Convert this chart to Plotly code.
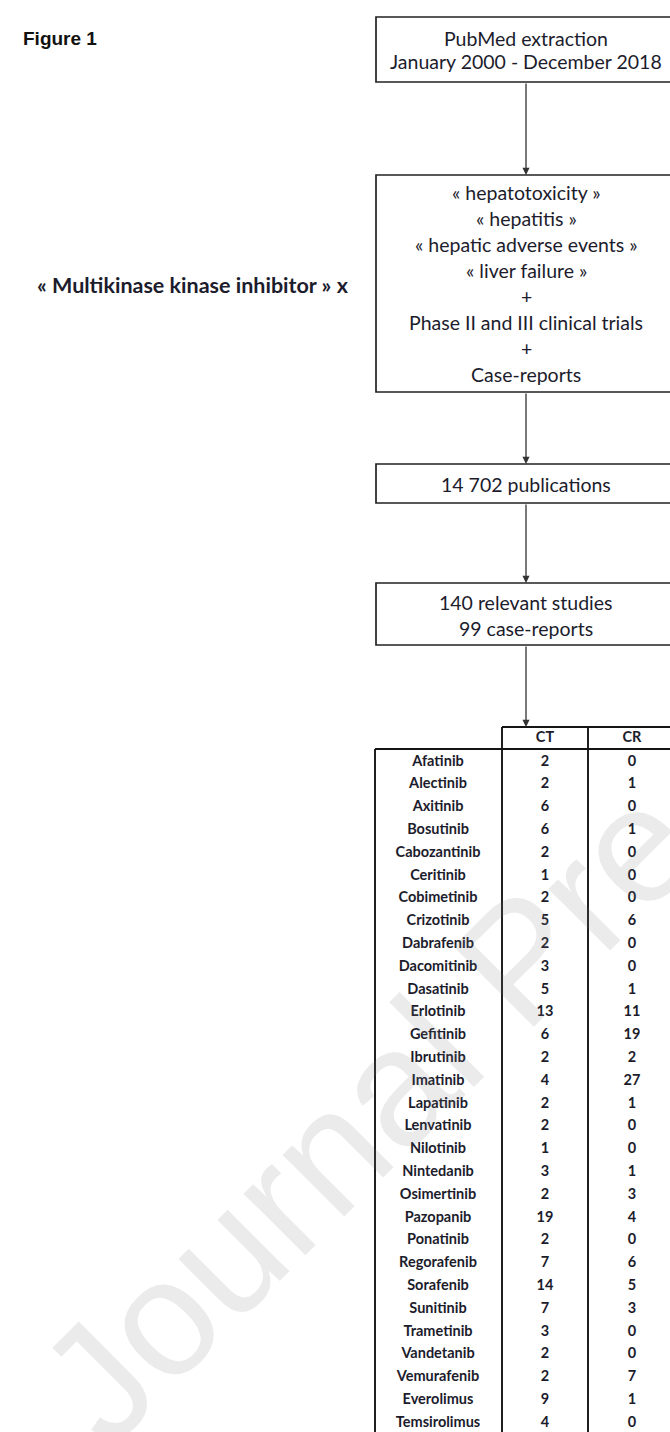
import plotly.graph_objects as go

# ---------------- data ----------------
drugs = ["Afatinib", "Alectinib", "Axitinib", "Bosutinib", "Cabozantinib", "Ceritinib",
         "Cobimetinib", "Crizotinib", "Dabrafenib", "Dacomitinib", "Dasatinib", "Erlotinib",
         "Gefitinib", "Ibrutinib", "Imatinib", "Lapatinib", "Lenvatinib", "Nilotinib",
         "Nintedanib", "Osimertinib", "Pazopanib", "Ponatinib", "Regorafenib", "Sorafenib",
         "Sunitinib", "Trametinib", "Vandetanib", "Vemurafenib", "Everolimus", "Temsirolimus"]
ct = [2, 2, 6, 6, 2, 1, 2, 5, 2, 3, 5, 13, 6, 2, 4, 2, 2, 1, 3, 2, 19, 2, 7, 14, 7, 3, 2, 2, 9, 4]
cr = [0, 1, 0, 1, 0, 0, 0, 6, 0, 0, 1, 11, 19, 2, 27, 1, 0, 0, 1, 3, 4, 0, 6, 5, 3, 0, 0, 7, 1, 0]
col_headers = ["CT", "CR"]

box1_lines = ["PubMed extraction", "January 2000 - December 2018"]
box2_lines = ["« hepatotoxicity »", "« hepatitis »", "« hepatic adverse events »", "« liver failure »",
              "+", "Phase II and III clinical trials", "+", "Case-reports"]
box3_lines = ["14 702 publications"]
box4_lines = ["140 relevant studies", "99 case-reports"]
side_text = "« Multikinase kinase inhibitor » x"
title_text = "Figure 1"
watermark = "Journal Pre-proof"

# ---------------- layout constants ----------------
W, H = 670, 1432
BX0, BX1 = 376, 673
CX = 526
TXT = "#1c1c2c"
FLOW_FONT = dict(family="Lato", size=19.5, color=TXT)

boxes = [
    (17, 82, box1_lines, 38, 23),
    (175, 392, box2_lines, 192, 26),
    (464, 503, box3_lines, 484, 0),
    (583, 645, box4_lines, 602, 26),
]

fig = go.Figure()
shapes = []
annotations = []

# watermark (semi transparent so content shows)
annotations.append(dict(x=520, y=960, xref="x", yref="y", text=watermark, showarrow=False,
                        textangle=-45, font=dict(family="Liberation Sans", size=165,
                                                 color="rgba(120,120,120,0.15)")))

for (t, b, lines, y0, dy) in boxes:
    shapes.append(dict(type="rect", x0=BX0, x1=BX1, y0=t, y1=b, xref="x", yref="y",
                       line=dict(color="#222222", width=1.7), fillcolor="rgba(0,0,0,0)"))
    for i, ln in enumerate(lines):
        annotations.append(dict(x=CX, y=y0 + i * dy, xref="x", yref="y", text=ln,
                                showarrow=False, font=FLOW_FONT, xanchor="center", yanchor="middle"))

# arrows between boxes
TABLE_TOP = 727
arrow_pairs = [(82, 175), (392, 464), (503, 583), (645, TABLE_TOP)]
for a, b in arrow_pairs:
    annotations.append(dict(x=CX, y=b, ax=CX, ay=a, xref="x", yref="y", axref="x", ayref="y",
                            showarrow=True, arrowhead=2, arrowsize=1.1, arrowwidth=1.3,
                            arrowcolor="#333333", standoff=0, text=""))

annotations.append(dict(x=21, y=38, xref="x", yref="y", text="<b>" + title_text + "</b>",
                        showarrow=False, xanchor="left", yanchor="middle",
                        font=dict(family="Liberation Sans", size=19, color="#111111")))
annotations.append(dict(x=193, y=285, xref="x", yref="y", text="<b>" + side_text + "</b>",
                        showarrow=False, xanchor="center", yanchor="middle",
                        font=dict(family="Lato", size=21.5, color=TXT)))

# ---------------- table ----------------
XL, XA, XB, XR = 375, 502, 588, 673
HDR_BOT = 749
ROW0, ROWD = 762, 22.8
XN, XCT, XCR = 438, 545, 632
LC = "#151515"
shapes += [
    dict(type="line", x0=XA, x1=XR, y0=TABLE_TOP, y1=TABLE_TOP, line=dict(color=LC, width=1.9)),
    dict(type="line", x0=XL, x1=XR, y0=HDR_BOT, y1=HDR_BOT, line=dict(color=LC, width=2.1)),
    dict(type="line", x0=XL, x1=XL, y0=HDR_BOT, y1=H + 5, line=dict(color=LC, width=1.9)),
    dict(type="line", x0=XA, x1=XA, y0=TABLE_TOP, y1=H + 5, line=dict(color=LC, width=1.9)),
    dict(type="line", x0=XB, x1=XB, y0=TABLE_TOP, y1=H + 5, line=dict(color=LC, width=1.9)),
]
for s in shapes:
    s.setdefault("xref", "x")
    s.setdefault("yref", "y")

rows_y = [ROW0 + i * ROWD for i in range(len(drugs))]
TFONT = dict(family="Lato", size=14.5, color=TXT)
fig.add_trace(go.Scatter(x=[XCT, XCR], y=[(TABLE_TOP + HDR_BOT) / 2] * 2, mode="text",
                         text=["<b>%s</b>" % h for h in col_headers], textfont=TFONT,
                         textposition="middle center", hoverinfo="skip"))
fig.add_trace(go.Scatter(x=[XN] * len(drugs), y=rows_y, mode="text",
                         text=["<b>%s</b>" % d for d in drugs], textfont=TFONT,
                         textposition="middle center", hoverinfo="skip"))
fig.add_trace(go.Scatter(x=[XCT] * len(ct), y=rows_y, mode="text",
                         text=["<b>%d</b>" % v for v in ct], textfont=TFONT,
                         textposition="middle center", hoverinfo="skip"))
fig.add_trace(go.Scatter(x=[XCR] * len(cr), y=rows_y, mode="text",
                         text=["<b>%d</b>" % v for v in cr], textfont=TFONT,
                         textposition="middle center", hoverinfo="skip"))

fig.update_layout(
    width=W, height=H, margin=dict(l=0, r=0, t=0, b=0),
    paper_bgcolor="white", plot_bgcolor="white", showlegend=False,
    xaxis=dict(range=[0, W], visible=False, fixedrange=True),
    yaxis=dict(range=[H, 0], visible=False, fixedrange=True),
    shapes=shapes, annotations=annotations,
)
fig.write_html("out.html", config={"displayModeBar": False},
               post_script="document.body.style.margin='0';document.body.style.overflow='hidden';")
